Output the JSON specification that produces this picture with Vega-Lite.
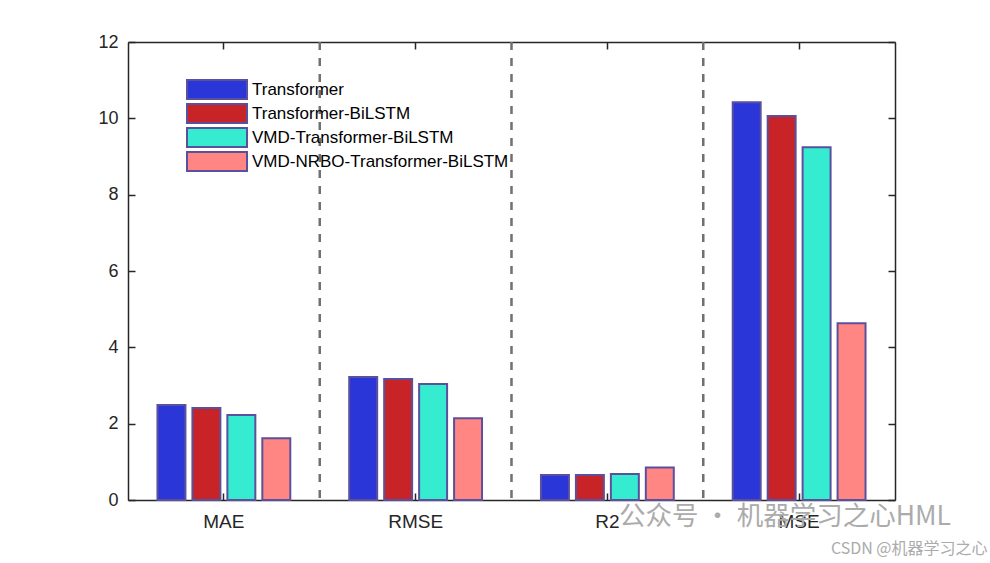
{
  "$schema": "https://vega.github.io/schema/vega-lite/v6.json",
  "width": 767,
  "height": 458,
  "autosize": "none",
  "padding": {"left": 128, "top": 42, "right": 95, "bottom": 63},
  "background": "white",
  "title": {
    "text": "公众号 · 机器学习之心HML",
    "orient": "bottom",
    "anchor": "end",
    "frame": "group",
    "dx": 56,
    "offset": -52,
    "font": "Noto Sans CJK SC",
    "fontSize": 26.5,
    "fontWeight": "normal",
    "color": "#ababab"
  },
  "data": {
    "values": [
      {"metric": "MAE", "model": "Transformer", "value": 2.49},
      {"metric": "MAE", "model": "Transformer-BiLSTM", "value": 2.41},
      {"metric": "MAE", "model": "VMD-Transformer-BiLSTM", "value": 2.23},
      {"metric": "MAE", "model": "VMD-NRBO-Transformer-BiLSTM", "value": 1.62},
      {"metric": "RMSE", "model": "Transformer", "value": 3.22},
      {"metric": "RMSE", "model": "Transformer-BiLSTM", "value": 3.17},
      {"metric": "RMSE", "model": "VMD-Transformer-BiLSTM", "value": 3.04},
      {"metric": "RMSE", "model": "VMD-NRBO-Transformer-BiLSTM", "value": 2.14},
      {"metric": "R2", "model": "Transformer", "value": 0.655},
      {"metric": "R2", "model": "Transformer-BiLSTM", "value": 0.655},
      {"metric": "R2", "model": "VMD-Transformer-BiLSTM", "value": 0.68},
      {"metric": "R2", "model": "VMD-NRBO-Transformer-BiLSTM", "value": 0.85},
      {"metric": "MSE", "model": "Transformer", "value": 10.42},
      {"metric": "MSE", "model": "Transformer-BiLSTM", "value": 10.06},
      {"metric": "MSE", "model": "VMD-Transformer-BiLSTM", "value": 9.24},
      {"metric": "MSE", "model": "VMD-NRBO-Transformer-BiLSTM", "value": 4.63}
    ]
  },
  "config": {
    "view": {"stroke": null},
    "axis": {
      "grid": false,
      "title": null,
      "domainColor": "#262626",
      "domainWidth": 1.5,
      "tickColor": "#262626",
      "tickWidth": 1.5,
      "tickSize": -7,
      "labelColor": "#262626",
      "labelFont": "Liberation Sans"
    }
  },
  "layer": [
    {
      "mark": {"type": "bar", "stroke": "#5b509e", "strokeWidth": 2},
      "encoding": {
        "x": {
          "field": "metric",
          "type": "nominal",
          "scale": {"domain": ["MAE", "RMSE", "R2", "MSE"], "paddingInner": 0, "paddingOuter": 0},
          "axis": {
            "orient": "bottom",
            "labelAngle": 0,
            "labelFontSize": 19,
            "labelPadding": 19,
            "title": "CSDN @机器学习之心",
            "titleX": 859,
            "titleY": 48,
            "titleAlign": "right",
            "titleBaseline": "middle",
            "titleFont": "Noto Sans CJK SC",
            "titleFontSize": 16,
            "titleFontWeight": "normal",
            "titleColor": "#ababab"
          }
        },
        "xOffset": {
          "field": "model",
          "type": "nominal",
          "scale": {
            "domain": ["Transformer", "Transformer-BiLSTM", "VMD-Transformer-BiLSTM", "VMD-NRBO-Transformer-BiLSTM"],
            "paddingInner": 0.2,
            "paddingOuter": 0.843
          }
        },
        "y": {
          "field": "value",
          "type": "quantitative",
          "scale": {"domain": [0, 12], "nice": false, "zero": true},
          "axis": {"orient": "left", "values": [0, 2, 4, 6, 8, 10, 12], "labelFontSize": 18, "labelPadding": 17}
        },
        "color": {
          "field": "model",
          "type": "nominal",
          "scale": {
            "domain": ["Transformer", "Transformer-BiLSTM", "VMD-Transformer-BiLSTM", "VMD-NRBO-Transformer-BiLSTM"],
            "range": ["#2b36d9", "#c82326", "#35ebd0", "#ff8682"]
          },
          "legend": {
            "title": null,
            "orient": "none",
            "legendX": 58,
            "legendY": 38,
            "padding": 0,
            "symbolType": "M-1,-1.12H6.06V1.12H-1Z",
            "symbolSize": 289,
            "symbolStrokeColor": "#5b509e",
            "symbolStrokeWidth": 2,
            "symbolOpacity": 1,
            "labelOffset": 47,
            "labelFont": "Liberation Sans",
            "labelFontSize": 17,
            "labelColor": "#000000",
            "labelLimit": 400,
            "rowPadding": -5
          }
        }
      }
    },
    {
      "transform": [
        {"filter": "datum.model === 'Transformer' && datum.metric !== 'MAE'"}
      ],
      "mark": {"type": "rule", "color": "#707070", "strokeWidth": 2.5, "strokeDash": [8, 8]},
      "encoding": {
        "x": {"field": "metric", "type": "nominal", "bandPosition": 0, "axis": null}
      }
    },
    {
      "mark": {"type": "point", "opacity": 0},
      "encoding": {
        "x": {
          "field": "metric",
          "type": "nominal",
          "axis": {"orient": "top", "labels": false, "title": null}
        },
        "y": {
          "field": "value",
          "type": "quantitative",
          "axis": {"orient": "right", "labels": false, "values": [0, 2, 4, 6, 8, 10, 12]}
        }
      }
    }
  ],
  "resolve": {"axis": {"x": "independent", "y": "independent"}}
}
